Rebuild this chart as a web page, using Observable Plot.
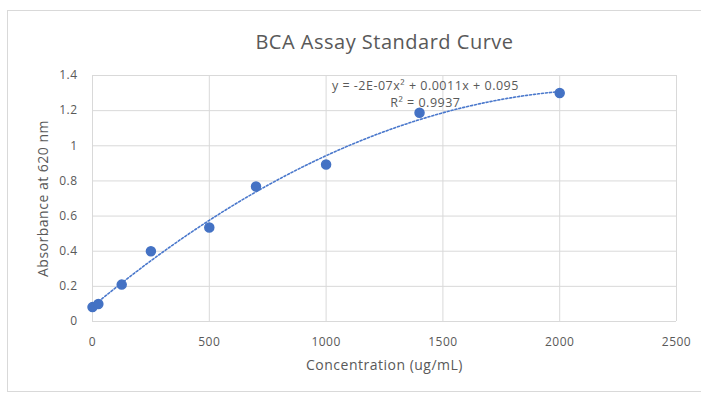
<!DOCTYPE html>
<html><head><meta charset="utf-8">
<script src="https://cdn.jsdelivr.net/npm/d3@7"></script>
<script src="https://cdn.jsdelivr.net/npm/@observablehq/plot@0.6"></script>
<style>
body{margin:0;background:#fff;}
#wrap{position:relative;width:701px;height:394px;}
#frame{position:absolute;left:7px;top:10px;width:700px;height:382px;border:1px solid #d9d9d9;box-sizing:border-box;pointer-events:none;}
#chart{position:absolute;left:0;top:0;}
</style></head>
<body><div id="wrap"><div id="frame"></div><div id="chart"></div></div>
<script>
const title = "BCA Assay Standard Curve";
const xLabel = "Concentration (ug/mL)";
const yLabel = "Absorbance at 620 nm";
const concentration = [0, 25, 125, 250, 500, 700, 1000, 1400, 2000];
const absorbance = [0.082, 0.10, 0.21, 0.40, 0.535, 0.768, 0.893, 1.188, 1.30];
const xTicks = [0, 500, 1000, 1500, 2000, 2500];
const yTicks = [0, 0.2, 0.4, 0.6, 0.8, 1, 1.2, 1.4];
const equationText = "y = -2E-07x² + 0.0011x + 0.095";
const r2Text = "R² = 0.9937";

const points = concentration.map((c, i) => ({c, a: absorbance[i]}));

// least-squares quadratic trendline from the data
function quadFit(xs, ys) {
  let S = Array.from({length: 5}, () => 0), T = [0, 0, 0];
  xs.forEach((x, i) => {
    for (let k = 0; k < 5; k++) S[k] += x ** k;
    for (let k = 0; k < 3; k++) T[k] += ys[i] * x ** k;
  });
  const M = [[S[0], S[1], S[2], T[0]], [S[1], S[2], S[3], T[1]], [S[2], S[3], S[4], T[2]]];
  for (let i = 0; i < 3; i++) {
    for (let j = i + 1; j < 3; j++) {
      const f = M[j][i] / M[i][i];
      for (let k = i; k < 4; k++) M[j][k] -= f * M[i][k];
    }
  }
  const r = [0, 0, 0];
  for (let i = 2; i >= 0; i--) {
    let s = M[i][3];
    for (let k = i + 1; k < 3; k++) s -= M[i][k] * r[k];
    r[i] = s / M[i][i];
  }
  return r;
}
const [b0, b1, b2] = quadFit(concentration, absorbance);
const xMax = d3.max(concentration);
const trend = d3.range(0, xMax + 1, 10).map(c => ({c, a: b0 + b1 * c + b2 * c * c}));

const font = "'Open Sans', 'Liberation Sans', sans-serif";
const gray = "#595959";
const fmt = d => String(d);

const plot = Plot.plot({
  width: 701, height: 394,
  marginLeft: 92, marginRight: 25, marginTop: 75, marginBottom: 73,
  style: {fontFamily: font, fontSize: "12px", color: gray, background: "transparent"},
  x: {domain: [0, 2500], ticks: xTicks, label: null},
  y: {domain: [0, 1.4], ticks: yTicks, label: null},
  marks: [
    Plot.gridX(xTicks, {stroke: "#d9d9d9", strokeOpacity: 1}),
    Plot.gridY(yTicks, {stroke: "#d9d9d9", strokeOpacity: 1}),
    Plot.axisX(xTicks, {tickSize: 0, tickPadding: 16, fill: gray, fontSize: 12, tickFormat: fmt}),
    Plot.axisY(yTicks, {tickSize: 0, tickPadding: 15, fill: gray, fontSize: 12, tickFormat: fmt}),
    Plot.line(trend, {x: "c", y: "a", stroke: "#4a78cc", strokeWidth: 1.6, strokeDasharray: "2,2"}),
    Plot.dot(points, {x: "c", y: "a", r: 4.5, fill: "#4472C4", stroke: "#4472C4"}),
    Plot.text([equationText], {x: 1425, y: 1.4, dy: 10, text: d => d, fill: gray, fontSize: 12.5}),
    Plot.text([r2Text], {x: 1425, y: 1.2, dy: -8, text: d => d, fill: gray, fontSize: 12.5}),
    Plot.text([title], {frameAnchor: "top", dy: -41, text: d => d, fill: gray, fontSize: 20}),
    Plot.text([xLabel], {frameAnchor: "bottom", dy: 48, text: d => d, fill: gray, fontSize: 14}),
    Plot.text([yLabel], {frameAnchor: "left", dx: -49, rotate: -90, textAnchor: "middle", text: d => d, fill: gray, fontSize: 14})
  ]
});
d3.select(plot).selectAll("text").style("letter-spacing", "0.5px");
document.getElementById("chart").appendChild(plot);
</script></body></html>
